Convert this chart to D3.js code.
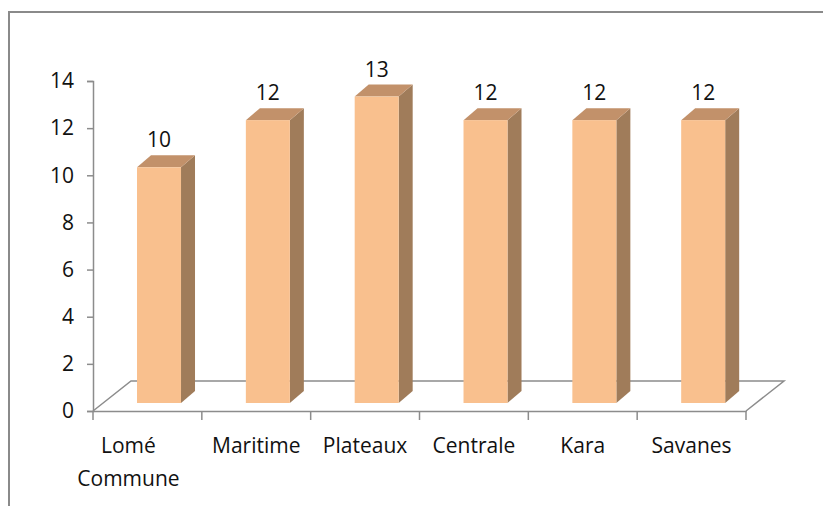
<!DOCTYPE html>
<html lang="en">
<head>
<meta charset="UTF-8">
<title>Régions</title>
<script src="https://d3js.org/d3.v7.min.js"></script>
<style>
	body { margin: 0; background: #fff; }
	text { font-family: "Open Sans", sans-serif; fill: #111; }
</style>
</head>
<body>
<div id="chart"></div>
<script>
	// data
	const regions = ["Lomé|Commune", "Maritime", "Plateaux", "Centrale", "Kara", "Savanes"];
	const values = [10, 12, 13, 12, 12, 12];
	const yTicks = [0, 2, 4, 6, 8, 10, 12, 14];

	const width = 823, height = 506;
	const svg = d3.select("#chart").append("svg")
		.attr("width", width)
		.attr("height", height);

	// outer frame (only top and left edges show)
	svg.append("path")
		.attr("d", "M9,506 V12 H823")
		.attr("fill", "none")
		.attr("stroke", "#8a8a8a")
		.attr("stroke-width", 2);

	const x = d3.scaleBand().domain(regions).range([93, 746]);
	const y = d3.scaleLinear().domain([0, 14]).range([411, 81]);

	const floorDx = 38, floorDy = -30;   // depth of the floor
	const barOffX = 11.6, barOffY = -8;  // bars sit a bit behind the front edge
	const depthX = 14, depthY = -12;     // bar depth
	const barW = 44;

	const axisColor = "#8c8c8c";

	// floor
	const fx0 = x.range()[0], fx1 = x.range()[1], fy = y(0);
	svg.append("path")
		.attr("d", `M${fx0},${fy} L${fx0 + floorDx},${fy + floorDy} L${fx1 + floorDx},${fy + floorDy} L${fx1},${fy}`)
		.attr("fill", "none")
		.attr("stroke", axisColor)
		.attr("stroke-width", 1.5);

	// y axis
	const yAxis = svg.append("g")
		.attr("transform", `translate(${fx0},0)`)
		.call(d3.axisLeft(y).tickValues(yTicks).tickSize(6).tickPadding(13));
	yAxis.select(".domain").attr("stroke", axisColor).attr("stroke-width", 1.5);
	yAxis.selectAll(".tick line").attr("stroke", axisColor).attr("stroke-width", 1.5);
	yAxis.selectAll(".tick text")
		.attr("font-size", 21)
		.attr("font-family", "Open Sans, sans-serif")
		.attr("fill", "#111");

	// x axis
	const xAxis = svg.append("g")
		.attr("transform", `translate(0,${fy})`)
		.call(d3.axisBottom(x).tickSize(0).tickFormat(""));
	xAxis.select(".domain").attr("stroke", axisColor).attr("stroke-width", 1.5);
	xAxis.selectAll(".tick line").remove();
	// tick marks at band edges
	svg.append("g").selectAll("line")
		.data(regions.concat(["__end"]))
		.join("line")
		.attr("x1", (d, i) => i < regions.length ? x(d) : fx1)
		.attr("x2", (d, i) => i < regions.length ? x(d) : fx1)
		.attr("y1", fy)
		.attr("y2", fy + 9)
		.attr("stroke", axisColor)
		.attr("stroke-width", 1.5);

	// category labels
	const labels = svg.append("g").selectAll("text")
		.data(regions)
		.join("text")
		.attr("x", d => x(d) + x.bandwidth() / 2 - (d.includes("|") ? 19 : 0))
		.attr("y", 453)
		.attr("text-anchor", "middle")
		.attr("font-size", 21);
	labels.each(function (d) {
		const parts = d.split("|");
		d3.select(this).selectAll("tspan")
			.data(parts)
			.join("tspan")
			.attr("x", d3.select(this).attr("x"))
			.attr("dy", (p, i) => i === 0 ? 0 : 33)
			.text(p => p);
	});

	// bars
	const bars = svg.append("g").selectAll("g")
		.data(regions.map((r, i) => ({ r, v: values[i] })))
		.join("g");

	const bx = d => x(d.r) + x.bandwidth() / 2 - barW / 2 + barOffX;
	const by0 = y(0) + barOffY;
	const by1 = d => y(d.v) + barOffY;

	// side face
	bars.append("path")
		.attr("d", d => {
			const x1 = bx(d) + barW;
			return `M${x1},${by1(d)} L${x1 + depthX},${by1(d) + depthY} L${x1 + depthX},${by0 + depthY} L${x1},${by0} Z`;
		})
		.attr("fill", "#a07c5a");

	// top face
	bars.append("path")
		.attr("d", d => {
			const x0 = bx(d), t = by1(d);
			return `M${x0},${t} L${x0 + depthX},${t + depthY} L${x0 + barW + depthX},${t + depthY} L${x0 + barW},${t} Z`;
		})
		.attr("fill", "#c2916a");

	// front face
	bars.append("rect")
		.attr("x", bx)
		.attr("y", by1)
		.attr("width", barW)
		.attr("height", d => by0 - by1(d))
		.attr("fill", "#f9c08e");

	// value labels
	bars.append("text")
		.attr("x", d => bx(d) + barW / 2)
		.attr("y", d => by1(d) + depthY - 8)
		.attr("text-anchor", "middle")
		.attr("font-size", 21)
		.text(d => d.v);
</script>
</body>
</html>
